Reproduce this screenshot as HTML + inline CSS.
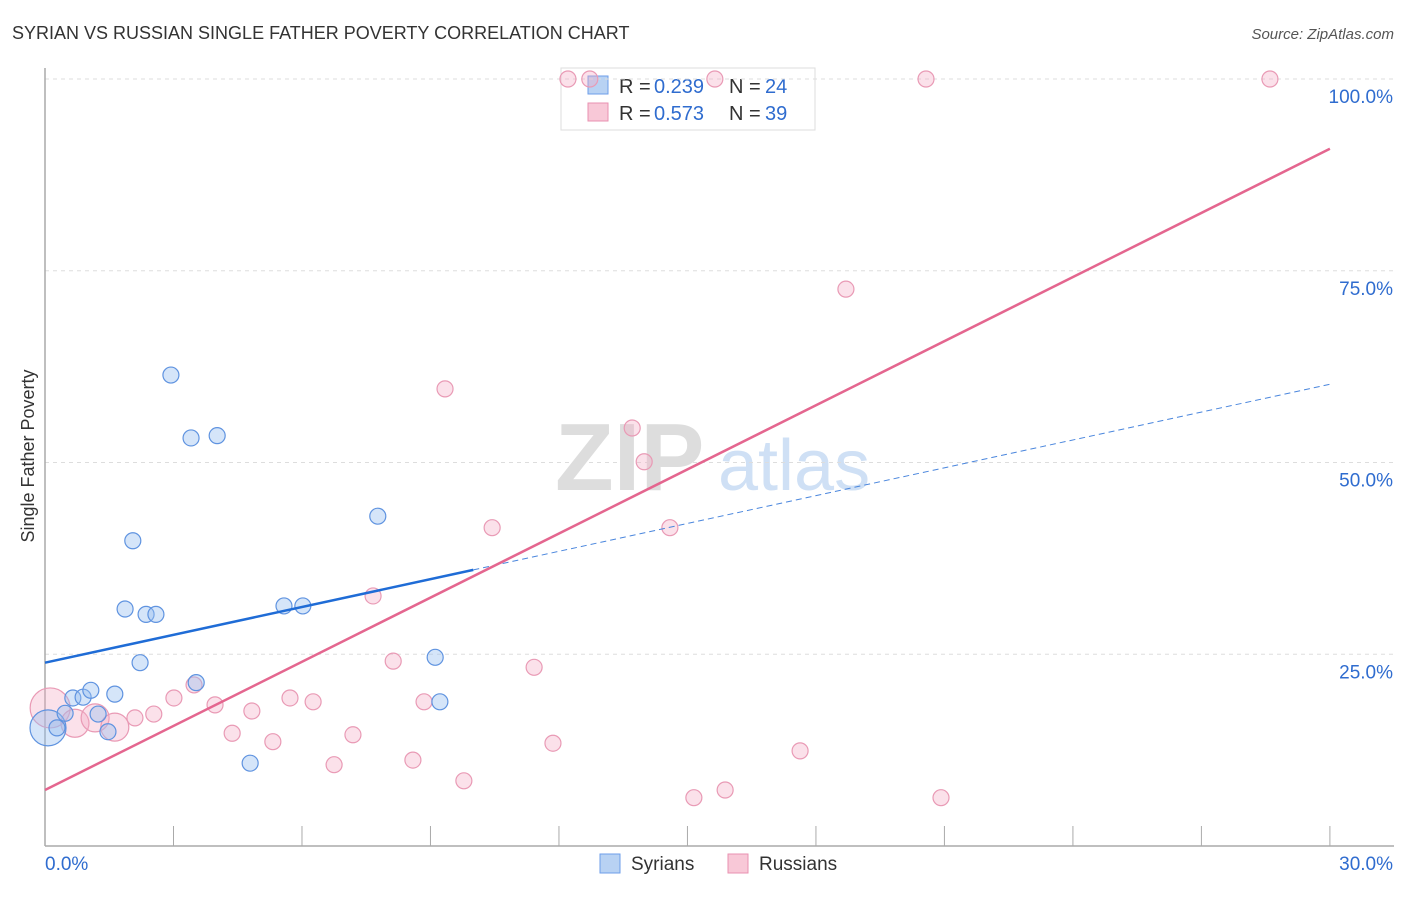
<!DOCTYPE html>
<html><head><meta charset="utf-8"><style>
body{margin:0;background:#fff;font-family:"Liberation Sans",sans-serif}
svg text{font-family:"Liberation Sans",sans-serif}
</style></head><body>
<svg id="c" width="1406" height="892">
<text x="12" y="39" font-size="18" fill="#333">SYRIAN VS RUSSIAN SINGLE FATHER POVERTY CORRELATION CHART</text>
<text x="1394" y="39" font-size="15" fill="#555" font-style="italic" text-anchor="end">Source: ZipAtlas.com</text>
<text x="34" y="456" font-size="18" fill="#333" transform="rotate(-90 34 456)" text-anchor="middle">Single Father Poverty</text>
<g><text x="555" y="490" font-size="96" font-family="Liberation Serif" fill="#ddd" font-weight="bold">ZIP</text><text x="718" y="490" font-size="72" fill="#cfe0f5">atlas</text></g>
<g>
<rect x="561" y="68" width="254" height="62" fill="#fff" stroke="#ddd"/>
<rect x="588" y="76" width="20" height="18" fill="#b8d2f3" stroke="#6d9eea"/>
<rect x="588" y="103" width="20" height="18" fill="#f8c8d7" stroke="#e991b0"/>
<text x="619" y="93" font-size="20" fill="#333">R =</text><text x="654" y="93" font-size="20" fill="#2f6ccf">0.239</text>
<text x="729" y="93" font-size="20" fill="#333">N =</text><text x="765" y="93" font-size="20" fill="#2f6ccf">24</text>
<text x="619" y="120" font-size="20" fill="#333">R =</text><text x="654" y="120" font-size="20" fill="#2f6ccf">0.573</text>
<text x="729" y="120" font-size="20" fill="#333">N =</text><text x="765" y="120" font-size="20" fill="#2f6ccf">39</text>
</g>
<g id="grid"></g><g id="pts"></g><g id="lines"></g>
<g>
<rect x="600" y="854" width="20" height="19" fill="#b8d2f3" stroke="#6d9eea"/><text x="631" y="870" font-size="19" fill="#333">Syrians</text>
<rect x="728" y="854" width="20" height="19" fill="#f8c8d7" stroke="#e991b0"/><text x="759" y="870" font-size="19" fill="#333">Russians</text>
</g>
</svg>
<script>
const yTicks=[25,50,75,100];
const xTickLabels=["0.0%","30.0%"];
const syrX=[0.07,0.28,0.47,0.65,0.89,1.07,1.24,1.47,1.63,1.87,2.05,2.22,2.36,2.59,2.94,3.41,3.53,4.02,4.79,5.58,6.02,7.77,9.11,9.22];
const syrY=[15.4,15.4,17.3,19.3,19.4,20.3,17.2,14.9,19.8,30.9,39.8,23.9,30.2,30.2,61.4,53.2,21.3,53.5,10.8,31.3,31.3,43.0,24.6,18.8];
const rusX=[0.12,0.70,1.17,1.63,2.10,2.54,3.01,3.48,3.97,4.37,4.83,5.32,5.72,6.26,6.75,7.19,7.66,8.13,8.59,8.85,9.34,9.78,10.44,11.42,11.86,12.21,12.72,13.71,13.99,14.59,15.15,15.64,15.88,17.63,18.70,20.57,20.92,28.60];
const rusY=[18.0,16.0,16.7,15.5,16.7,17.2,19.3,21.0,18.4,14.7,17.6,13.6,19.3,18.8,10.6,14.5,32.6,24.1,11.2,18.8,59.6,8.5,41.5,23.3,13.4,100,100,54.5,50.1,41.5,6.3,100,7.3,12.4,72.6,100,6.3,100];
const syrTrend=[23.9,60.2];
const rusTrend=[7.3,90.9];
const X=v=>45+v*42.83, Y=v=>846-v*7.67;
const NS="http://www.w3.org/2000/svg";
function mk(p,t,a){const e=document.createElementNS(NS,t);for(const k in a)e.setAttribute(k,a[k]);p.appendChild(e);return e;}
const g=document.getElementById('grid');
yTicks.forEach(v=>{
 const l=mk(g,'line',{x1:45,x2:1394,y1:Y(v),y2:Y(v),stroke:'#ddd','stroke-dasharray':'4 4'});
 
 
 const t=mk(g,'text',{x:1393,y:Y(v)+24,'font-size':19,fill:'#2f6ccf','text-anchor':'end'});t.textContent=v.toFixed(1)+'%';
 
 
});
mk(g,'line',{x1:45,x2:45,y1:68,y2:846,stroke:'#aaa','stroke-width':1.5});
mk(g,'line',{x1:45,x2:1394,y1:846,y2:846,stroke:'#aaa','stroke-width':1.5});
for(let i=1;i<=10;i++){mk(g,'line',{x1:X(i*3),x2:X(i*3),y1:826,y2:846,stroke:'#aaa'});}
const t0=mk(g,'text',{x:45,y:870,'font-size':19,fill:'#2f6ccf'});t0.textContent=xTickLabels[0];


const t1=mk(g,'text',{x:1393,y:870,'font-size':19,fill:'#2f6ccf','text-anchor':'end'});t1.textContent=xTickLabels[1];


const P=document.getElementById('pts');
rusX.forEach((x,i)=>{const c=mk(P,'circle',{cx:X(x),cy:Y(rusY[i]),r:i==0?20:(i<4?14:8),fill:'rgba(244,170,195,0.35)',stroke:'#e99ab5','stroke-width':1.2});
 
 });
syrX.forEach((x,i)=>{const c=mk(P,'circle',{cx:X(x),cy:Y(syrY[i]),r:i==0?18:8,fill:'rgba(150,190,240,0.4)',stroke:'#5f93e0','stroke-width':1.2});
 
 });
const L=document.getElementById('lines');
const sy=x=>syrTrend[0]+(syrTrend[1]-syrTrend[0])*x/30, ry=x=>rusTrend[0]+(rusTrend[1]-rusTrend[0])*x/30;
const a=mk(L,'line',{x1:X(0),y1:Y(sy(0)),x2:X(10),y2:Y(sy(10)),stroke:'#1f6cd6','stroke-width':2.5});


const b=mk(L,'line',{x1:X(10),y1:Y(sy(10)),x2:X(30),y2:Y(sy(30)),stroke:'#4a86dd','stroke-width':1,'stroke-dasharray':'6 4'});


const r=mk(L,'line',{x1:X(0),y1:Y(ry(0)),x2:X(30),y2:Y(ry(30)),stroke:'#e4668f','stroke-width':2.5});


</script>
</body></html>
